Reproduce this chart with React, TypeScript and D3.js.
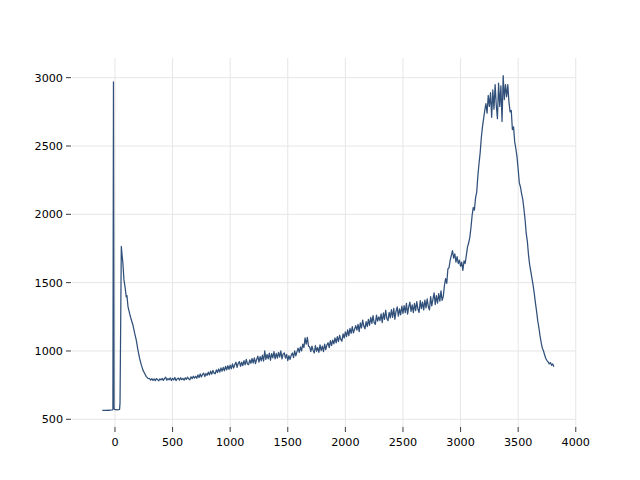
import React from "react";
import * as d3 from "d3";

// Irregular head of the trace (baseline, narrow spike, second rise and decay)
const headX = [-110, -100, -90, -80, -70, -60, -50, -40, -30, -22, -18, -13, -8, -3, 0, 10, 20, 30, 40, 44, 55, 62, 69, 78, 89, 98, 104, 113, 127, 141, 156, 171, 185, 200, 214, 228, 243, 258, 272, 286];
const headY = [566, 565, 566, 566, 565, 567, 566, 567, 568, 569, 572, 2970, 580, 572, 571, 570, 569, 570, 572, 620, 1765, 1700, 1640, 1520, 1460, 1395, 1405, 1325, 1275, 1230, 1190, 1130, 1080, 1005, 945, 900, 860, 835, 812, 800];

// Evenly sampled body of the trace: x from 300 in steps of 10
const bodyStart = 300;
const bodyStep = 10;
const bodyValues = [
  798, 786, 797, 784, 795, 783, 798, 790, 782, 796,
  788, 799, 785, 797, 808, 786, 798, 789, 803, 784,
  800, 788, 806, 783, 797, 801, 786, 804, 790, 799,
  786, 803, 793, 809, 795, 789, 811, 797, 815, 801,
  815, 800, 825, 806, 832, 810, 828, 838, 812, 835,
  822, 845, 825, 852, 830, 858, 838, 833, 862, 842,
  868, 845, 876, 852, 880, 855, 888, 862, 892, 866,
  896, 870, 905, 875, 900, 918, 880, 910, 922, 888,
  918, 892, 930, 898, 938, 905, 900, 935, 910, 945,
  912, 950, 908, 938, 962, 918, 958, 928, 970, 925,
  1000, 938, 975, 942, 985, 932, 980, 950, 995, 942,
  982, 948, 990, 955, 1000, 942, 978, 985, 948, 975,
  930, 965, 938, 970, 985, 952, 1000, 965, 995, 1020,
  990, 1030, 1000, 1050, 1025, 1095, 1050, 1100, 1035, 1030,
  995, 1035, 1005, 985, 1040, 998, 1025, 990, 1045, 1003,
  1035, 995, 1050, 1010, 1045, 1060, 1025, 1075, 1040, 1080,
  1052, 1095, 1060, 1105, 1068, 1115, 1085, 1072, 1125, 1095,
  1140, 1105, 1155, 1112, 1165, 1128, 1178, 1132, 1160, 1185,
  1152, 1195, 1142, 1205, 1168, 1225, 1182, 1162, 1215, 1178,
  1232, 1188, 1245, 1202, 1258, 1208, 1195, 1262, 1218, 1250,
  1222, 1272, 1208, 1278, 1232, 1298, 1238, 1222, 1282, 1242,
  1302, 1245, 1312, 1232, 1292, 1322, 1255, 1308, 1265, 1328,
  1275, 1332, 1280, 1348, 1270, 1322, 1358, 1290, 1338, 1280,
  1348, 1295, 1362, 1305, 1282, 1368, 1310, 1358, 1300, 1372,
  1315, 1382, 1325, 1300, 1398, 1330, 1378, 1425, 1340, 1405,
  1350, 1420, 1365, 1440, 1370, 1400, 1480, 1530, 1495, 1600,
  1610, 1665, 1700, 1735, 1680, 1710, 1650, 1690, 1640, 1665,
  1620, 1650, 1590, 1660, 1640, 1700, 1760, 1790, 1830, 1900,
  1990, 2050, 2030, 2120, 2160, 2280, 2370, 2450, 2560, 2640,
  2700, 2760, 2810, 2740, 2870, 2790, 2890, 2710, 2910, 2770,
  2950, 2800, 2700, 2960, 2790, 2940, 2680, 3015, 2840, 2950,
  2860, 2950, 2820, 2750, 2760, 2620, 2640, 2530, 2480, 2420,
  2330, 2230, 2200, 2150, 2110, 2040, 1960, 1860, 1800, 1700,
  1630, 1580, 1530, 1480, 1420, 1350, 1290, 1220, 1170, 1110,
  1060, 1020, 1000, 970, 945, 930, 920, 905, 915, 895,
  905, 885,
];

const xTicks = [0, 500, 1000, 1500, 2000, 2500, 3000, 3500, 4000];
const yTicks = [500, 1000, 1500, 2000, 2500, 3000];

const xDomain = [-373, 4002];
const yDomain = [443.6, 3144];

export default function App() {
  const W = 640, H = 480;
  const left = 72, right = 576, top = 58, bottom = 427;
  const x = d3.scaleLinear().domain(xDomain).range([left, right]);
  const y = d3.scaleLinear().domain(yDomain).range([bottom, top]);

  const pts: [number, number][] = headX.map((v, i) => [v, headY[i]]);
  bodyValues.forEach((v, i) => pts.push([bodyStart + i * bodyStep, v]));

  const line = d3.line<[number, number]>().x((d) => x(d[0])).y((d) => y(d[1]));
  const grid = "#e6e6e6";
  const font = "DejaVu Sans, sans-serif";

  return (
    <svg width={W} height={H} style={{ position: "absolute", left: 0, top: 0, background: "#fff" }}>
      <rect x={0} y={0} width={W} height={H} fill="#fff" />
      {yTicks.map((t) => (
        <line key={"gy" + t} x1={left} x2={right} y1={y(t)} y2={y(t)} stroke={grid} strokeWidth={1} />
      ))}
      {xTicks.map((t) => (
        <line key={"gx" + t} x1={x(t)} x2={x(t)} y1={top} y2={bottom} stroke={grid} strokeWidth={1} />
      ))}
      <path d={line(pts) || ""} fill="none" stroke="#30507a" strokeWidth={1.25} strokeLinejoin="round" />
      {xTicks.map((t) => (
        <g key={"tx" + t}>
          <line x1={x(t)} x2={x(t)} y1={bottom} y2={bottom + 5} stroke="#222" strokeWidth={0.9} />
          <text x={x(t)} y={bottom + 19} textAnchor="middle" fontFamily={font} fontSize={11.2} fill="#000">
            {t}
          </text>
        </g>
      ))}
      {yTicks.map((t) => (
        <g key={"ty" + t}>
          <line x1={left - 6} x2={left - 1} y1={y(t)} y2={y(t)} stroke="#222" strokeWidth={0.9} />
          <text x={left - 9} y={y(t)} dy="0.35em" textAnchor="end" fontFamily={font} fontSize={11.2} fill="#000">
            {t}
          </text>
        </g>
      ))}
    </svg>
  );
}
